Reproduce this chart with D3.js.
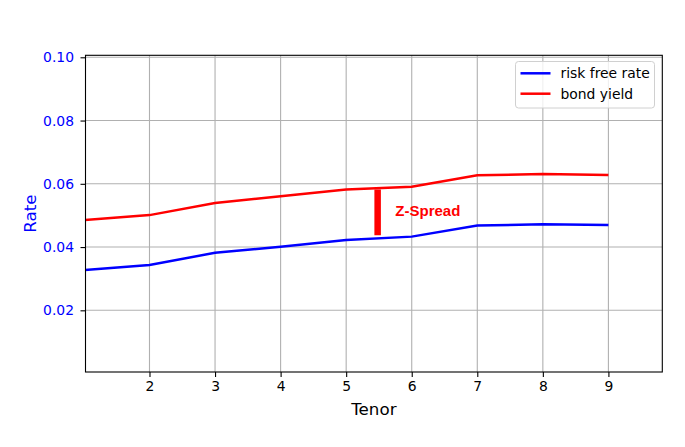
<!DOCTYPE html>
<html>
<head>
<meta charset="utf-8">
<script src="https://cdn.jsdelivr.net/npm/d3@7"></script>
<style>
  body { margin: 0; background: #fff; }
  svg { display: block; font-family: "DejaVu Sans", sans-serif; }
  .grid line { stroke: #b0b0b0; stroke-width: 1.1; }
</style>
</head>
<body>
<svg width="685" height="447"></svg>
<script>
// tenor points and the two curves
const tenors = [1, 2, 3, 4, 5, 6, 7, 8, 9];
const riskFree = [0.0327, 0.0343, 0.0382, 0.0401, 0.0422, 0.0433, 0.0468, 0.0472, 0.0470];
const bondYield = [0.0485, 0.0501, 0.0539, 0.0561, 0.0582, 0.0591, 0.0627, 0.0631, 0.0628];
const xTicks = [2, 3, 4, 5, 6, 7, 8, 9];
const yTicks = [0.02, 0.04, 0.06, 0.08, 0.10];
// z-spread marker
const spreadX = 5.48;
const spreadRange = [0.0437, 0.0582];
const spreadLabel = { x: 5.75, y: 0.0514, text: 'Z-Spread' };

const svg = d3.select('svg');
const box = { left: 85.5, right: 662.3, top: 55.3, bottom: 372 };

const x = d3.scaleLinear().domain([1.024, 9.822]).range([box.left, box.right]);
const y = d3.scaleLinear().domain([0.0005, 0.10063]).range([box.bottom, box.top]);

// grid
const grid = svg.append('g').attr('class', 'grid');
grid.selectAll('.gx').data(xTicks).enter().append('line')
    .attr('x1', d => x(d)).attr('x2', d => x(d))
    .attr('y1', box.top).attr('y2', box.bottom);
grid.selectAll('.gy').data(yTicks).enter().append('line')
    .attr('x1', box.left).attr('x2', box.right)
    .attr('y1', d => y(d)).attr('y2', d => y(d));

svg.append('clipPath').attr('id', 'clip').append('rect')
    .attr('x', box.left).attr('y', box.top)
    .attr('width', box.right - box.left).attr('height', box.bottom - box.top);
const plot = svg.append('g').attr('clip-path', 'url(#clip)');

const line = d3.line().x(d => x(d[0])).y(d => y(d[1]));

plot.append('path')
    .datum(tenors.map((t, i) => [t, riskFree[i]]))
    .attr('d', line)
    .attr('fill', 'none').attr('stroke', '#0000ff').attr('stroke-width', 2.5);

plot.append('path')
    .datum(tenors.map((t, i) => [t, bondYield[i]]))
    .attr('d', line)
    .attr('fill', 'none').attr('stroke', '#ff0000').attr('stroke-width', 2.5);

plot.append('line')
    .attr('x1', x(spreadX)).attr('x2', x(spreadX))
    .attr('y1', y(spreadRange[0])).attr('y2', y(spreadRange[1]))
    .attr('stroke', '#ff0000').attr('stroke-width', 6.5);

plot.append('text')
    .attr('x', x(spreadLabel.x)).attr('y', y(spreadLabel.y))
    .attr('dy', '0.35em')
    .attr('fill', '#ff0000')
    .style('font-family', '"Liberation Sans", Arial, sans-serif')
    .style('font-weight', 'bold').style('font-size', '15px')
    .text(spreadLabel.text);

// axes
const xAxis = svg.append('g').attr('transform', 'translate(0,' + box.bottom + ')')
    .call(d3.axisBottom(x).tickValues(xTicks).tickFormat(d3.format('d')).tickSizeOuter(0).tickSize(5).tickPadding(4));
const yAxis = svg.append('g').attr('transform', 'translate(' + box.left + ',0)')
    .call(d3.axisLeft(y).tickValues(yTicks).tickFormat(d3.format('.2f')).tickSizeOuter(0).tickSize(5).tickPadding(6.5));

[xAxis, yAxis].forEach(a => {
    a.attr('font-size', null).attr('font-family', null);
    a.select('.domain').remove();
    a.selectAll('line').attr('stroke', '#000').attr('stroke-width', 1.1);
    a.selectAll('text').style('font-size', '13.9px');
});
xAxis.selectAll('text').attr('fill', '#000');
yAxis.selectAll('text').attr('fill', '#0000ff');

// frame
svg.append('rect')
    .attr('x', box.left).attr('y', box.top)
    .attr('width', box.right - box.left).attr('height', box.bottom - box.top)
    .attr('fill', 'none').attr('stroke', '#000').attr('stroke-width', 1.1);

svg.append('text')
    .attr('x', (box.left + box.right) / 2).attr('y', 415)
    .attr('text-anchor', 'middle').style('font-size', '16.7px')
    .text('Tenor');

svg.append('text')
    .attr('transform', 'translate(36,' + (box.top + box.bottom) / 2 + ') rotate(-90)')
    .attr('text-anchor', 'middle').attr('fill', '#0000ff').style('font-size', '16.7px')
    .text('Rate');

// legend
const legend = svg.append('g').attr('transform', 'translate(515.5,61.5)');
legend.append('rect')
    .attr('width', 139).attr('height', 46.5).attr('rx', 3)
    .attr('fill', '#fff').attr('fill-opacity', 0.8)
    .attr('stroke', '#d0d0d0').attr('stroke-width', 1);
const items = [['risk free rate', '#0000ff'], ['bond yield', '#ff0000']];
items.forEach((it, i) => {
    const yy = 11.8 + i * 20.4;
    legend.append('line')
        .attr('x1', 5).attr('x2', 35).attr('y1', yy).attr('y2', yy)
        .attr('stroke', it[1]).attr('stroke-width', 2.5);
    legend.append('text')
        .attr('x', 45).attr('y', yy).attr('dy', '0.35em')
        .style('font-size', '13.9px')
        .text(it[0]);
});
</script>
</body>
</html>
